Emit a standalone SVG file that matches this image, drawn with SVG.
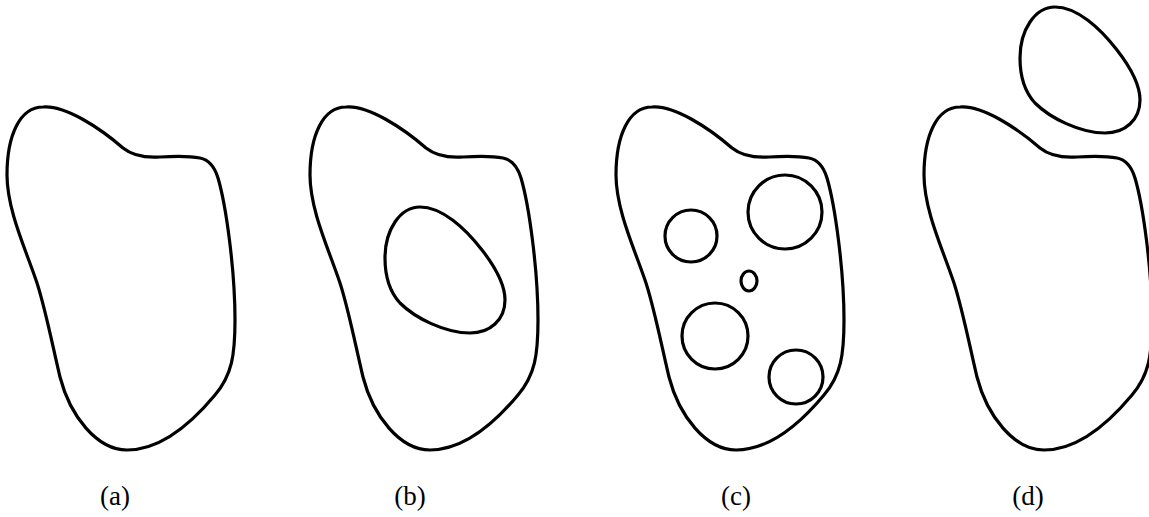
<svg xmlns="http://www.w3.org/2000/svg" xmlns:xlink="http://www.w3.org/1999/xlink" width="1149" height="517" viewBox="0 0 1149 517">
<style>
.s{fill:none;stroke:#000;stroke-width:3.2;stroke-linejoin:round}
.lbl{font-family:"Liberation Serif","DejaVu Serif",serif;font-size:27px;fill:#000;text-anchor:middle}
</style>
<defs>
<path id="blob" d="M 43,107 C 65,105 100,128 123,148 C 133,156 145,158 160,157 C 175,156 190,156 200,158 C 210,160 215,168 218,178 C 226,205 235,270 235,320 C 235,355 232,375 215,395 C 190,425 160,450 127,450 C 97,450 70,416 60,377 C 53,348 46,311 37,283 C 26,250 7,210 7,175 C 7,135 20,107 43,107 Z"/>
<path id="egg" d="M 420,207 C 442,207 465,228 482,250 C 496,268 505,285 505,300 C 505,320 490,333 470,333 C 445,333 415,318 400,303 C 388,290 385,275 385,258 C 385,230 400,207 420,207 Z"/>
</defs>
<rect width="1149" height="517" fill="#fff"/>
<g id="a">
<use xlink:href="#blob" class="s"/>
<text class="lbl" x="115" y="505">(a)</text>
</g>
<g id="b">
<use xlink:href="#blob" class="s" transform="translate(303,0)"/>
<use xlink:href="#egg" class="s"/>
<text class="lbl" x="410" y="505">(b)</text>
</g>
<g id="c">
<use xlink:href="#blob" class="s" transform="translate(609,0)"/>
<circle class="s" cx="691" cy="236" r="26"/>
<circle class="s" cx="785" cy="212" r="37"/>
<ellipse class="s" cx="749" cy="281" rx="8" ry="10"/>
<circle class="s" cx="715" cy="336" r="33"/>
<circle class="s" cx="796" cy="377" r="27"/>
<text class="lbl" x="736" y="505">(c)</text>
</g>
<g id="d">
<use xlink:href="#blob" class="s" transform="translate(917,0)"/>
<use xlink:href="#egg" class="s" transform="translate(635,-200)"/>
<text class="lbl" x="1028" y="505">(d)</text>
</g>
</svg>
